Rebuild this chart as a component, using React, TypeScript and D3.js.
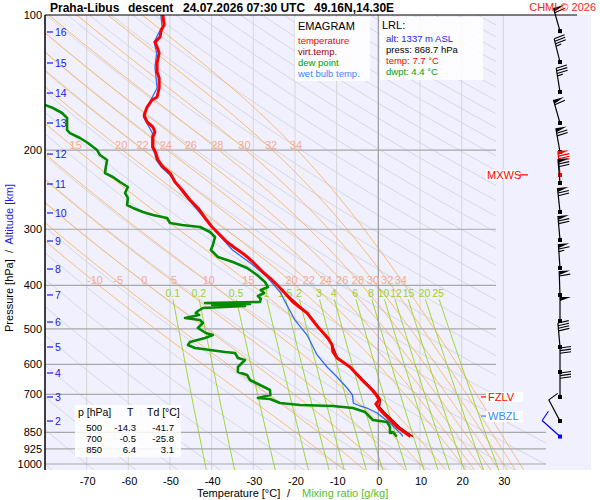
import * as d3 from 'd3';

// ---- diagram layout values ----
const PRESS_TICKS = [100, 200, 300, 400, 500, 600, 700, 850, 925, 1000];
const TEMP_TICKS = [-70, -60, -50, -40, -30, -20, -10, 0, 10, 20, 30];
const THETA_W = [-10, -5, 0, 5, 10, 15, 20, 22, 24, 26, 28, 30, 32, 34];
const THETA_W_LABELS_200 = [15, 20, 22, 24, 26, 28, 30, 32, 34];
const MIX_RATIOS = [0.1, 0.2, 0.5, 1, 1.5, 2, 3, 4, 6, 8, 10, 12, 15, 20, 25];

// ---- sounding (descent) ----
const ALT_KM = [16, 15, 14, 13, 12, 11, 10, 9, 8, 7, 6, 5, 4, 3, 2];
const ALT_P = [109.1, 127.9, 149.2, 174.0, 204.0, 237.9, 276.0, 318.7, 367.9, 420.3, 482.8, 548.8, 627.1, 709.2, 802.2];

const TEMP: [number, number][] = [
  [100, -51.7], [105.3, -51.4], [108, -52.1], [111.9, -52.4], [114.9, -53.6], [117.8, -53.1],
  [121.5, -52.6], [127.9, -53.1], [134, -53.1], [138.1, -52.6], [145.4, -52.6], [152.3, -53.1],
  [154.6, -54.3], [160.3, -55.5], [167, -56.2], [173.1, -55.5], [177.6, -54.1], [182.2, -53.6],
  [186.9, -54.1], [196.8, -54.1], [202.9, -53.4], [210.3, -52.9], [218, -51.7], [224.9, -50.0],
  [235.5, -48.8], [245.3, -47.1], [258.2, -45.2], [269, -43.3], [283.2, -41.6], [296.6, -39.9],
  [309, -38.0], [320.3, -36.3], [330.3, -34.4], [342.4, -32.0], [354.9, -30.1], [373.6, -27.7],
  [389.2, -25.5], [409.7, -23.1], [435.7, -20.5], [461, -17.1], [495.3, -14.5], [524.1, -12.1],
  [543.3, -11.1], [563.1, -10.9], [580.7, -9.9], [608.1, -6.8], [650.1, -3.9], [684.3, -1.5],
  [702, -0.5], [720.1, 0.2], [735, -0.6], [746.6, -0.1], [765.9, 0.9], [798, 2.8], [827.2, 4.5],
  [868.7, 7.7],
];

const VIRT_TEMP: [number, number][] = [
  [409.7, -23.1], [461, -17.1], [495.3, -14.4], [543.3, -11.0], [580.7, -9.8], [608.1, -6.6],
  [650.1, -3.6], [684.3, -1.2], [702, -0.2], [720.1, 0.5], [746.6, 0.3], [765.9, 1.4],
  [798, 3.4], [827.2, 5.1], [868.7, 8.3],
];

const DEW: [number, number][] = [
  [158.6, -80.0], [161.1, -78.1], [165.3, -75.9], [169.6, -74.7], [180.4, -74.7], [183.2, -74.0],
  [187.9, -71.6], [192.8, -69.7], [199.9, -67.5], [205, -66.8], [210.4, -65.1], [218, -65.4],
  [224.9, -65.6], [229.5, -63.7], [235.5, -62.0], [241.6, -60.1], [249.1, -60.8], [255.6, -60.1],
  [265, -60.3], [269, -58.9], [274.6, -56.5], [278.9, -54.1], [283.2, -50.7], [290.6, -50.0],
  [293.6, -47.1], [296.6, -42.8], [304.3, -40.4], [312.2, -39.2], [325.3, -39.7], [333.7, -40.2],
  [345.9, -38.5], [354.9, -34.9], [366, -31.5], [379.4, -29.1], [393.2, -27.2], [403.5, -26.5],
  [409.7, -28.2], [416, -27.4], [422.5, -28.9], [429.1, -28.2], [435.7, -28.4], [437.9, -41.6],
  [440.2, -30.8], [442.5, -39.9], [444.7, -32.0], [449.3, -42.1], [456.3, -43.3], [461, -43.8],
  [465.8, -43.0], [473, -46.4], [477.9, -42.8], [485.3, -42.1], [497.9, -43.3], [510.8, -41.4],
  [516, -39.7], [524.1, -41.6], [534.9, -45.2], [543.2, -45.7], [551.6, -44.0], [563.1, -36.8],
  [566, -34.4], [580.7, -33.7], [586.6, -32.0], [608.1, -33.7], [623.9, -33.7], [633.6, -31.5],
  [650, -30.8], [666.9, -28.4], [684.3, -26.0], [702, -25.9], [712.9, -28.9], [716.5, -26.0],
  [731.4, -23.6], [738.9, -18.8], [742.7, -10.9], [750.4, -6.1], [765.9, -3.2], [798, -1.3],
  [806.2, 2.1], [827.1, 2.8], [853, 2.8], [848.7, 3.5], [868.7, 4.4],
];

const WET_BULB: [number, number][] = [
  [100, -52.2], [106.3, -51.9], [109.1, -52.6], [114.9, -53.8], [121.5, -53.2], [130.6, -53.6],
  [145.4, -53.1], [154.6, -54.6], [168.7, -56.4], [175.8, -55.3], [183.2, -54.2], [186.9, -54.4],
  [196.8, -54.4], [202.9, -53.7], [210.3, -53.3], [218, -52.1], [229.5, -49.5], [249.1, -46.9],
  [278.9, -42.4], [301.2, -39.3], [333.7, -35.0], [358.6, -30.4], [383.3, -26.7], [416.1, -23.4],
  [431.2, -22.6], [447, -21.7], [478, -20.0], [516, -17.1], [543.3, -15.9], [571.8, -14.7],
  [608.1, -12.3], [640.1, -9.9], [677.2, -7.5], [702, -6.2], [731.4, -6.0], [742.7, -4.4],
  [750.4, -2.7], [769.8, -0.3], [810.4, 2.8], [861.8, 5.7], [868.7, 5.8],
];

// wind: pressure [hPa], direction [deg], speed [kt]
const WIND_P = [108.6, 127.3, 148.4, 174.0, 201.9, 227.2, 236.7, 274.6, 317.0, 366.0, 420.3, 480.3, 548.8, 623.9, 709.2, 802.2, 868.7];
const WIND_DIR = [344, 346, 351, 344, 350, 355, 355, 354, 355, 356, 358, 0, 355, 0, 0, 332, 312];
const WIND_KT = [60, 35, 35, 60, 70, 80, 70, 70, 70, 65, 60, 50, 40, 30, 30, 10, 10];
const MAX_WIND_IDX = 5;

const TABLE_P = [500, 700, 850];
const TABLE_T = ['-14.3', '-0.5', '6.4'];
const TABLE_TD = ['-41.7', '-25.8', '3.1'];

const FZLV_P = 709;
const WBZL_P = 782;
const MXWS_P = 227;

const FONT = '"Liberation Sans", Arial, sans-serif';
const WIND_X = 560;

const x = d3.scaleLinear().domain([-80, 40]).range([45, 545]);
const y = d3.scaleLog().domain([100, 1000]).range([15, 464]);

const line = d3
  .line<[number, number]>()
  .x((d) => x(d[1]))
  .y((d) => y(d[0]));

// thermodynamics for the diagram grid
const Rd = 287.04;
const Cp = 1005.7;
const Lv = 2.501e6;
const EPS = 0.622;
const es = (tc: number) => 6.112 * Math.exp((17.67 * tc) / (tc + 243.5));

function dTdp(p: number, tk: number) {
  const e = es(tk - 273.15);
  const rs = (EPS * e) / (p - e);
  return (Rd * tk + Lv * rs) / (p * (Cp + (Lv * Lv * rs * EPS) / (Rd * tk * tk)));
}

function pseudoAdiabat(tw: number): [number, number][] {
  const up: [number, number][] = [[1000, tw]];
  let tk = tw + 273.15;
  let p = 1000;
  const dp = -4;
  while (p > 100) {
    const k1 = dTdp(p, tk);
    const k2 = dTdp(p + dp / 2, tk + (k1 * dp) / 2);
    tk += k2 * dp;
    p += dp;
    up.push([p, tk - 273.15]);
  }
  const down: [number, number][] = [];
  tk = tw + 273.15;
  p = 1000;
  while (p < 1050) {
    const k1 = dTdp(p, tk);
    const k2 = dTdp(p + 2, tk + k1 * 2);
    tk += k2 * 4;
    p += 4;
    down.push([p, tk - 273.15]);
  }
  return [...down.reverse(), ...up];
}

const atP = (pts: [number, number][], p: number) => {
  const s = pts.slice().sort((a, b) => a[0] - b[0]);
  const i = d3.bisector((d: [number, number]) => d[0]).left(s, p);
  const a = s[Math.max(0, i - 1)];
  const b = s[Math.min(s.length - 1, i)];
  if (a[0] === b[0]) return a[1];
  return a[1] + ((b[1] - a[1]) * (p - a[0])) / (b[0] - a[0]);
};

const logSteps = (p0: number, p1: number, n: number) =>
  d3.range(n + 1).map((i) => p0 * Math.pow(p1 / p0, i / n));

const dryAdiabat = (thetaC: number): [number, number][] =>
  logSteps(1050, 100, 60).map((p) => [p, (thetaC + 273.15) * Math.pow(p / 1000, Rd / Cp) - 273.15]);

const mixTemp = (w: number, p: number) => {
  const e = (w * p) / (622 + w);
  const g = Math.log(e / 6.112);
  return (243.5 * g) / (17.67 - g);
};
const mixLine = (w: number): [number, number][] => logSteps(430, 1050, 30).map((p) => [p, mixTemp(w, p)]);

// label x positions for mixing ratios, nudged apart where they crowd
const mixLabelX: number[] = [];
MIX_RATIOS.forEach((w, i) => {
  let lx = x(mixTemp(w, 416)) + 1;
  if (i > 0 && lx < mixLabelX[i - 1] + 12.5) lx = mixLabelX[i - 1] + 12.5;
  mixLabelX.push(lx);
});

function WindBarb({ i }: { i: number }) {
  const color = i === MAX_WIND_IDX ? '#ff0000' : i === WIND_P.length - 1 ? '#0000ff' : '#000000';
  const bx = WIND_X;
  const by = y(WIND_P[i]);
  const a = (WIND_DIR[i] * Math.PI) / 180;
  const vx = Math.sin(a);
  const vy = -Math.cos(a);
  const L = 24;
  const tx = bx + vx * L;
  const ty = by + vy * L;
  const px = -vy;
  const py = vx;
  const S = (d: number) => [tx - vx * d, ty - vy * d];
  const parts: JSX.Element[] = [];
  let rest = Math.round(WIND_KT[i] / 5) * 5;
  let pos = 0;
  let k = 0;
  while (rest >= 50) {
    const [ax, ay] = S(pos);
    const [cx, cy] = S(pos + 4);
    parts.push(
      <polygon key={k++} points={`${ax},${ay} ${cx},${cy} ${ax + px * 11},${ay + py * 11}`} fill={color} />
    );
    pos += 5;
    rest -= 50;
  }
  while (rest >= 10) {
    const [ax, ay] = S(pos);
    parts.push(
      <line key={k++} x1={ax} y1={ay} x2={ax + px * 11 + vx * 1.5} y2={ay + py * 11 + vy * 1.5} stroke={color} strokeWidth={1.1} />
    );
    pos += 2.6;
    rest -= 10;
  }
  if (rest >= 5) {
    if (pos === 0) pos = 2.6;
    const [ax, ay] = S(pos);
    parts.push(
      <line key={k++} x1={ax} y1={ay} x2={ax + px * 5.5 + vx} y2={ay + py * 5.5 + vy} stroke={color} strokeWidth={1.1} />
    );
  }
  return (
    <g>
      <line x1={bx} y1={by} x2={tx} y2={ty} stroke={color} strokeWidth={1.2} />
      {parts}
      <rect x={bx - 2} y={by - 2} width={4} height={4} fill={color} />
    </g>
  );
}

export default function App() {
  const moist = THETA_W.map((tw) => ({ tw, pts: pseudoAdiabat(tw) }));
  const dry = d3.range(-80, 330, 10).map((t) => dryAdiabat(t));

  return (
    <div style={{ position: 'fixed', left: 0, top: 0 }}>
      <svg width={600} height={500} style={{ display: 'block', background: '#ffffff' }} fontFamily={FONT}>
        <defs>
          <clipPath id="diag">
            <polygon points="45,15 496,15 496,400 546,425 546,470 45,470" />
          </clipPath>
          <clipPath id="plot">
            <rect x={45} y={15} width={546} height={455} />
          </clipPath>
        </defs>

        <rect x={45} y={15} width={546} height={455} fill="#f0f0fe" />

        {/* isotherms */}
        {TEMP_TICKS.filter((t) => t !== 0).map((t) => (
          <line key={t} x1={x(t)} x2={x(t)} y1={15} y2={470} stroke="#d6d6d6" strokeWidth={1} />
        ))}

        <g clipPath="url(#diag)">
          {dry.map((pts, i) => (
            <path key={i} d={line(pts) ?? ''} fill="none" stroke="#d2d2d8" strokeWidth={0.8} />
          ))}
          {moist.map((m) => (
            <path key={m.tw} d={line(m.pts) ?? ''} fill="none" stroke="#ffb054" strokeWidth={0.85} />
          ))}
          {MIX_RATIOS.map((w) => (
            <path key={w} d={line(mixLine(w)) ?? ''} fill="none" stroke="#99d41c" strokeWidth={0.9} />
          ))}
          {PRESS_TICKS.filter((p) => p !== 100).map((p) => (
            <line key={p} x1={45} x2={546} y1={y(p)} y2={y(p)} stroke="#a8a8a8" strokeWidth={1.2} />
          ))}
        </g>
        <line x1={x(0)} x2={x(0)} y1={15} y2={470} stroke="#9a9a9a" strokeWidth={1.2} />

        {/* adiabat labels */}
        {THETA_W.map((tw) => {
          const m = moist.find((d) => d.tw === tw)!;
          return (
            <text key={`a4${tw}`} x={x(atP(m.pts, 400)) - 4} y={y(400) - 1.5} fontSize={11} fill="#f7ab8c" textAnchor="middle">
              {tw}
            </text>
          );
        })}
        {THETA_W_LABELS_200.map((tw) => {
          const m = moist.find((d) => d.tw === tw)!;
          return (
            <text key={`a2${tw}`} x={x(atP(m.pts, 200)) - 1.5} y={y(200) - 1.5} fontSize={11} fill="#f7ab8c" textAnchor="middle">
              {tw}
            </text>
          );
        })}
        {MIX_RATIOS.map((w, i) => (
          <text key={`m${w}`} x={mixLabelX[i]} y={297} fontSize={10.5} fill="#9ad030" textAnchor="middle">
            {w}
          </text>
        ))}

        {/* sounding curves */}
        <g clipPath="url(#plot)">
          <path d={line(VIRT_TEMP) ?? ''} fill="none" stroke="#a00000" strokeWidth={1.5} />
          <path d={line(WET_BULB) ?? ''} fill="none" stroke="#2f6fe8" strokeWidth={1.3} />
          <path d={line(DEW) ?? ''} fill="none" stroke="#008a00" strokeWidth={2.6} strokeLinejoin="round" />
          <path d={line(TEMP) ?? ''} fill="none" stroke="#ff0000" strokeWidth={3} strokeLinejoin="round" />
        </g>

        {/* axes */}
        <line x1={45} x2={577} y1={15} y2={15} stroke="#000" strokeWidth={1.2} />
        <line x1={45} x2={45} y1={15} y2={470} stroke="#000" strokeWidth={1.5} />
        {PRESS_TICKS.map((p) => (
          <text key={p} x={42} y={y(p) + 4} fontSize={11} textAnchor="end" fill="#000">
            {p}
          </text>
        ))}
        {ALT_KM.map((km, i) => (
          <g key={km}>
            <line x1={47} x2={53} y1={y(ALT_P[i])} y2={y(ALT_P[i])} stroke="#1a1aee" strokeWidth={1.2} />
            <text x={55} y={y(ALT_P[i]) + 4} fontSize={10.5} fill="#1a1aee">
              {km}
            </text>
          </g>
        ))}
        {TEMP_TICKS.map((t) => (
          <text key={t} x={x(t) + 1} y={485} fontSize={11} textAnchor="middle" fill="#000">
            {t}
          </text>
        ))}
        <text y={497} fontSize={11} fill="#000">
          <tspan x={197}>Temperature [°C]</tspan>
          <tspan x={287}>/</tspan>
          <tspan x={302} fill="#55c02a">
            Mixing ratio [g/kg]
          </tspan>
        </text>
        <text transform="translate(13,258) rotate(-90)" fontSize={11} textAnchor="middle" fill="#000" style={{ whiteSpace: 'pre' }}>
          <tspan>Pressure [hPa]</tspan>
          <tspan>{'  /  '}</tspan>
          <tspan fill="#1a1aee">Altitude [km]</tspan>
        </text>

        {/* title */}
        <g fontSize={12} fontWeight="bold" fill="#000">
          <text x={50} y={11.5}>Praha-Libus</text>
          <text x={128} y={11.5}>descent</text>
          <text x={183} y={11.5}>24.07.2026 07:30 UTC</text>
          <text x={314} y={11.5}>49.16N,14.30E</text>
        </g>

        {/* legend */}
        <rect x={295} y={17} width={75} height={64} fill="#ffffff" opacity={0.85} />
        <text x={298} y={30} fontSize={11} fill="#000">EMAGRAM</text>
        <g fontSize={9.5}>
          <text x={298} y={44} fill="#ff0000">temperature</text>
          <text x={298} y={55} fill="#a00000">virt.temp.</text>
          <text x={298} y={66} fill="#00a000">dew point</text>
          <text x={298} y={77} fill="#3f86ff">wet bulb temp.</text>
        </g>

        {/* LRL box */}
        <rect x={380} y={17} width={103} height={63} fill="#ffffff" opacity={0.85} />
        <text x={382} y={29} fontSize={11} fill="#000">LRL:</text>
        <g fontSize={9.5}>
          <text x={386} y={42} fill="#1a1aff">alt: 1337 m ASL</text>
          <text x={386} y={53} fill="#000">press: 868.7 hPa</text>
          <text x={386} y={64} fill="#ff0000">temp: 7.7 °C</text>
          <text x={386} y={75} fill="#00a000">dwpt: 4.4 °C</text>
        </g>

        {/* table */}
        <rect x={75} y={405} width={106} height={52} fill="#ffffff" opacity={0.85} />
        <g fontSize={9.5} fill="#000">
          <text x={78} y={416} fontSize={10.5}>p [hPa]</text>
          <text x={127} y={416} fontSize={10.5}>T</text>
          <text x={147} y={416} fontSize={10.5}>Td [°C]</text>
          {TABLE_P.map((p, i) => (
            <g key={p}>
              <text x={102} y={431 + i * 11} textAnchor="end">{p}</text>
              <text x={136} y={431 + i * 11} textAnchor="end">{TABLE_T[i]}</text>
              <text x={174} y={431 + i * 11} textAnchor="end">{TABLE_TD[i]}</text>
            </g>
          ))}
        </g>

        {/* level markers */}
        <rect x={486} y={y(MXWS_P) - 5} width={32} height={10} fill="#ffffff" />
        <text x={487} y={y(MXWS_P) + 4} fontSize={11} fill="#ff0000">MXWS</text>
        <line x1={520} x2={528} y1={y(MXWS_P)} y2={y(MXWS_P)} stroke="#ff0000" strokeWidth={1.2} />

        <rect x={486} y={y(FZLV_P) - 5} width={37} height={10} fill="#ffffff" />
        <line x1={481} x2={486} y1={y(FZLV_P)} y2={y(FZLV_P)} stroke="#ff0000" strokeWidth={1.2} />
        <text x={488} y={y(FZLV_P) + 4} fontSize={11} fill="#ff0000">FZLV</text>

        <rect x={486} y={y(WBZL_P) - 5} width={37} height={11} fill="#ffffff" />
        <line x1={481} x2={486} y1={y(WBZL_P)} y2={y(WBZL_P)} stroke="#3f86ff" strokeWidth={1.2} />
        <text x={488} y={y(WBZL_P) + 4} fontSize={11} fill="#3f86ff">WBZL</text>

        {/* wind */}
        {WIND_P.map((_, i) => (
          <WindBarb key={i} i={i} />
        ))}

        <text x={596} y={11} fontSize={11} textAnchor="end" fill="#ff2020">
          CHMI © 2026
        </text>
      </svg>
    </div>
  );
}
